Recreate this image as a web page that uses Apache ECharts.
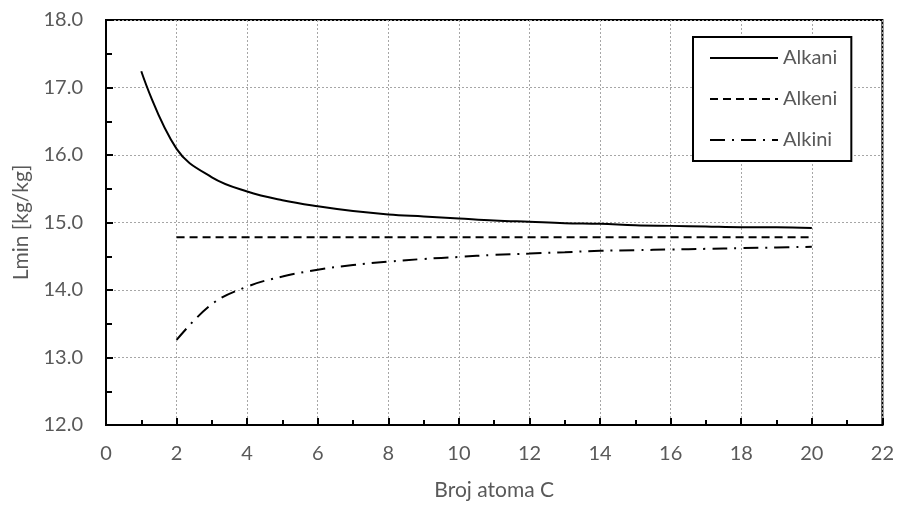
<!DOCTYPE html>
<html>
<head>
<meta charset="utf-8">
<script src="https://cdn.jsdelivr.net/npm/echarts@6/dist/echarts.min.js"></script>
<style>
html,body{margin:0;padding:0;background:#fff;}
#chart{width:897px;height:506px;}
</style>
</head>
<body>
<div id="chart"></div>
<script>
// Data
var alkaniN = [1,2,3,4,5,6,7,8,9,10,11,12,13,14,15,16,17,18,19,20];
var alkaniL = [17.24,16.09,15.67,15.46,15.33,15.24,15.17,15.12,15.09,15.06,15.03,15.01,14.99,14.98,14.96,14.95,14.94,14.93,14.93,14.92];
var alkeniN = [2,3,4,5,6,7,8,9,10,11,12,13,14,15,16,17,18,19,20];
var alkeniL = [14.78,14.78,14.78,14.78,14.78,14.78,14.78,14.78,14.78,14.78,14.78,14.78,14.78,14.78,14.78,14.78,14.78,14.78,14.78];
var alkiniN = [2,3,4,5,6,7,8,9,10,11,12,13,14,15,16,17,18,19,20];
var alkiniL = [13.26,13.79,14.05,14.20,14.30,14.37,14.42,14.46,14.49,14.52,14.54,14.56,14.58,14.59,14.60,14.61,14.62,14.63,14.64];
var seriesNames = ['Alkani','Alkeni','Alkini'];
var xTitle = 'Broj atoma C';
var yTitle = 'Lmin [kg/kg]';

function pairs(xs, ys){ return xs.map(function(x,i){ return [x, ys[i]]; }); }

var FONT = 'Lato';
var TXT = '#595959';
var chart = echarts.init(document.getElementById('chart'), null, {renderer:'canvas'});
chart.setOption({
  animation:false,
  backgroundColor:'#fff',
  textStyle:{fontFamily:FONT},
  grid:{left:106,right:14,top:20,bottom:81,show:true,borderColor:'#000',borderWidth:2,backgroundColor:'transparent'},
  legend:{
    orient:'vertical', left:693, top:37,
    padding:[11,14,11,16],
    itemWidth:68, itemHeight:14, itemGap:21,
    borderColor:'#000', borderWidth:2, backgroundColor:'#fff',
    itemStyle:{opacity:0},
    textStyle:{color:TXT, fontSize:20, fontFamily:FONT},
    data:seriesNames
  },
  xAxis:{
    type:'value', min:0, max:22, interval:2,
    name:xTitle, nameLocation:'middle', nameGap:55,
    nameTextStyle:{color:TXT,fontSize:21,fontFamily:FONT},
    axisLine:{show:true,onZero:false,lineStyle:{color:'#000',width:2}},
    axisTick:{show:true,inside:true,length:7,lineStyle:{color:'#000',width:2}},
    minorTick:{show:true,splitNumber:2,length:5,lineStyle:{color:'#000',width:2}},
    axisLabel:{color:TXT,fontSize:20,fontFamily:FONT,margin:19},
    splitLine:{show:true,lineStyle:{color:'#a6a6a6',width:1,type:[2,2]}}
  },
  yAxis:{
    type:'value', min:12, max:18, interval:1,
    name:yTitle, nameLocation:'middle', nameGap:74,
    nameTextStyle:{color:TXT,fontSize:21,fontFamily:FONT},
    axisLine:{show:true,onZero:false,lineStyle:{color:'#000',width:2}},
    axisTick:{show:true,inside:true,length:7,lineStyle:{color:'#000',width:2}},
    minorTick:{show:true,splitNumber:2,length:6,lineStyle:{color:'#000',width:2}},
    axisLabel:{color:TXT,fontSize:20,fontFamily:FONT,margin:23,formatter:function(v){return v.toFixed(1);}},
    splitLine:{show:true,lineStyle:{color:'#a6a6a6',width:1,type:[2,2]}}
  },
  series:[
    {name:seriesNames[0], type:'line', data:pairs(alkaniN,alkaniL), symbol:'none', smooth:0.4,
     lineStyle:{color:'#000',width:2,type:'solid'}, itemStyle:{color:'#000'}},
    {name:seriesNames[1], type:'line', data:pairs(alkeniN,alkeniL), symbol:'none',
     lineStyle:{color:'#000',width:2,type:[8,5]}, itemStyle:{color:'#000'}},
    {name:seriesNames[2], type:'line', data:pairs(alkiniN,alkiniL), symbol:'none', smooth:0.4,
     lineStyle:{color:'#000',width:2,type:[15,7,2,7]}, itemStyle:{color:'#000'}}
  ]
});
</script>
</body>
</html>
